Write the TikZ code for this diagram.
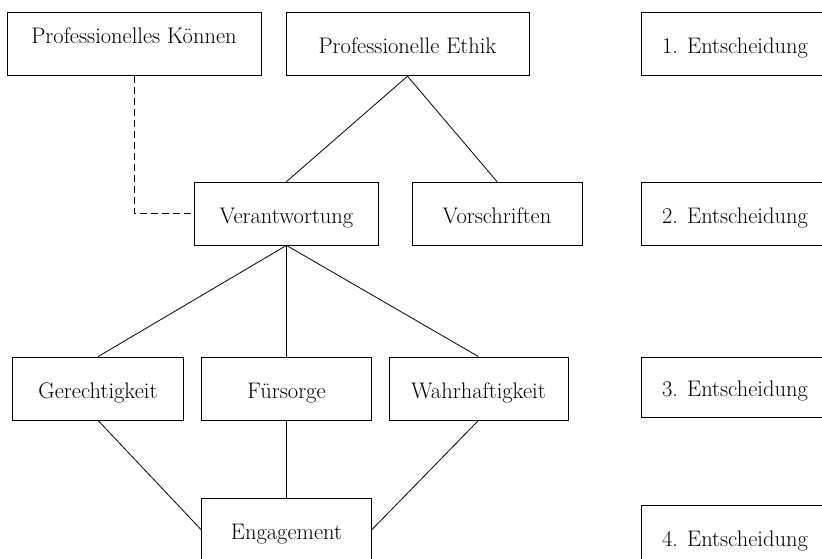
\documentclass[tikz,border=0pt]{standalone}
\begin{document}
\begin{tikzpicture}[x=1pt,y=-1pt,
  box/.style={draw, line width=0.8pt, inner sep=0pt, minimum height=63pt,
    font=\fontsize{22.5}{26}\selectfont, text height=19pt, text depth=0pt},
  link/.style={line width=0.8pt},
  dashlink/.style={line width=0.8pt, dash pattern=on 7pt off 4pt}]
\useasboundingbox (0,0) rectangle (822,558);
\clip (0,0) rectangle (822,558);
\node[box, minimum width=254pt, text height=10pt, text depth=12pt] (koennen) at (134,44.3) {Professionelles Können};
\node[box, minimum width=243pt] (ethik) at (407.5,44.3) {Professionelle Ethik};
\node[box, minimum width=188pt] (e1) at (735,44.3) {1. Entscheidung};
\node[box, minimum width=183.7pt] (verant) at (286.5,213.5) {Verantwortung};
\node[box, minimum width=170pt] (vorsch) at (497,213.5) {Vorschriften};
\node[box, minimum width=188pt] (e2) at (735,213.5) {2. Entscheidung};
\node[box, minimum width=170.3pt] (gerecht) at (98,388.5) {Gerechtigkeit};
\node[box, minimum width=170.3pt] (fuer) at (286.5,388.5) {Fürsorge};
\node[box, minimum width=179pt] (wahr) at (478.5,388.5) {Wahrhaftigkeit};
\node[box, minimum width=188pt, minimum height=60pt] (e3) at (735,387) {3. Entscheidung};
\node[box, minimum width=170.3pt] (engag) at (286.5,529.5) {Engagement};
\node[box, minimum width=188pt] (e4) at (735,536.5) {4. Entscheidung};
\draw[dashlink] (koennen.south) |- (verant.west);
\draw[link] (ethik.south) -- (verant.north);
\draw[link] (ethik.south) -- (vorsch.north);
\draw[link] (verant.south) -- (gerecht.north);
\draw[link] (verant.south) -- (fuer.north);
\draw[link] (verant.south) -- (wahr.north);
\draw[link] (gerecht.south) -- (engag.west);
\draw[link] (fuer.south) -- (engag.north);
\draw[link] (wahr.south) -- (engag.east);
\end{tikzpicture}
\end{document}
